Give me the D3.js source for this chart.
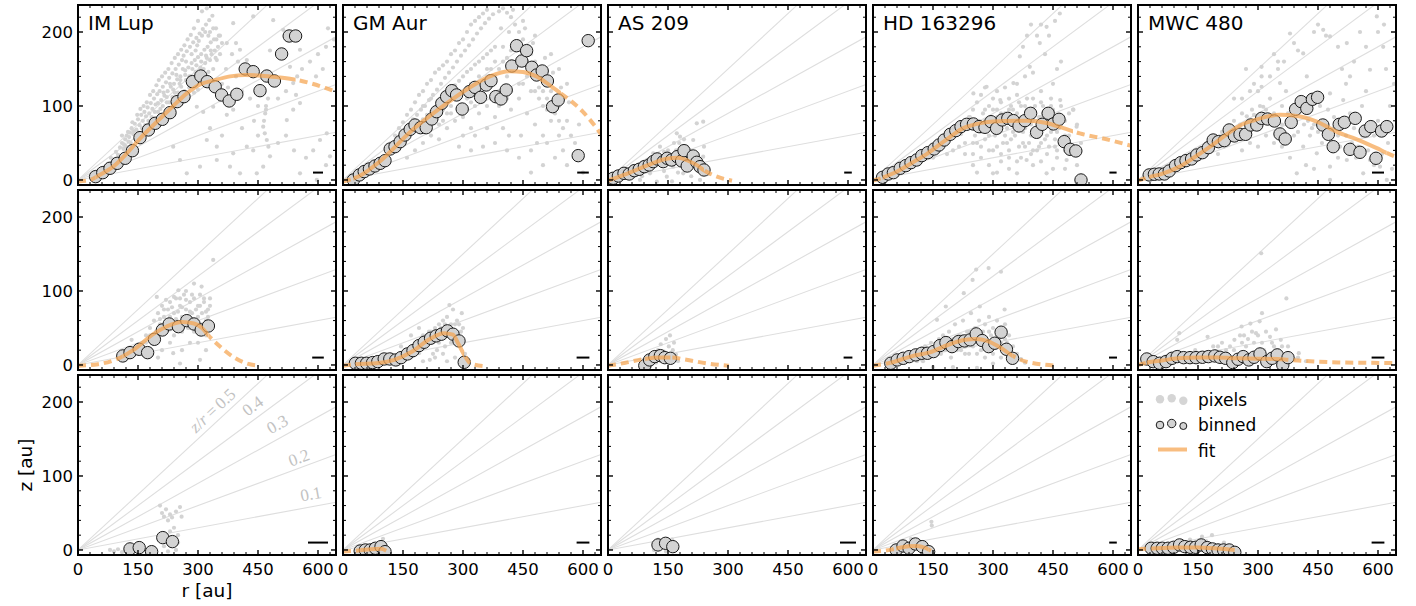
<!DOCTYPE html>
<html><head><meta charset="utf-8">
<script src="https://cdn.jsdelivr.net/npm/d3@7"></script>
<style>body{margin:0;background:#fff}svg{display:block}text{font-family:"DejaVu Sans",sans-serif;fill:#000}</style>
</head><body><svg id="c" width="1416" height="606"></svg>
<script>
// ---------- data ----------
const sources = ["IM Lup","GM Aur","AS 209","HD 163296","MWC 480"];
const xTicks = [0,150,300,450,600];
const yTicks = [0,100,200];
const ratios = [0.1,0.2,0.3,0.4,0.5];
const ratioLabels = [["0.1",582,76],["0.2",552,125],["0.3",498,170],["0.4",436,195],["0.5",336,189]];
const beams = [[25,29,19,18,30],[29,32,22,20,32],[50,32,40,19,32]];

// binned points (r, z) flat pairs
const binIMLup1=[44,4.5,62,9.9,80,15.8,98,22.5,118,29.3,136,39.6,155,57.2,176,67.6,193,76.6,211,82,230,91,248,105.9,265,112.6,286,132.9,307,140.5,323,132.9,343,126,359,114.9,378,106.8,397,115.8,418,150,438,146.4,455,120.7,472,140.5,491,133.8,509,170.3,528,194.6,544,194.6];
const binGMAur1=[26,0,41,6.8,53,11.3,66,14.9,80,18.9,93,22.5,105,26.1,118,41.9,130,45,143,51.8,155,60.8,168,68.5,180,74.3,194,70.7,208,70.7,222,82.4,234,92.3,247,103.6,259,112.6,272,120.7,284,114.9,298,95.9,316,119.4,330,125.2,344,111.7,358,128.4,370,134.2,382,112.6,395,109.5,408,121.6,422,154,434,181.5,447,160.8,459,174.8,472,152.3,484,141.9,498,147.3,511,133.8,524,99.1,538,108.1,588,32.9,613,188.3];
const binAS2091=[13,2.3,26,5.4,40,9,53,8.1,66,12.6,78,14.4,91,18,103,20.3,113,24.8,123,28.4,138,24.8,148,29.3,159,27,173,31.5,184,25.7,190,39.6,198,18.9,213,32.4,222,23.9,230,18,240,13.5];
const binHD1=[24,3.6,38,8.1,51,9.9,68,15.8,82,19.4,95,23.4,109,27,122,32.9,137,36.9,153,41.9,165,47.3,178,54,193,61.7,207,66.7,220,72.1,234,75.2,251,75.7,265,72.1,280,71.2,295,78.8,309,69.8,323,81.1,337,83.3,351,80.2,365,73,380,80.2,394,90.1,409,64.4,423,75.2,438,90.1,451,75.7,465,82,478,51.8,493,41.4,507,39.2,520,0];
const binMWC1=[28,6.8,41,7.7,53,8.1,66,8.1,78,12.2,94,19.4,107,23.4,120,26.1,134,28.4,147,33.8,161,36.9,176,43.7,188,54,201,51.8,216,53.2,228,67.6,241,59.5,255,61.7,269,61.7,282,74.3,297,74.3,309,83.3,324,82.4,341,79.7,355,62.2,368,55.4,383,77.9,394,95.5,408,105.9,422,96.8,436,109,449,111.7,462,74.3,476,61.7,488,45,503,75.2,516,77.9,530,41.4,543,83.3,555,37.4,568,66.2,582,72.1,595,29.3,609,66.2,622,72.1];
const binIMLup2=[112,12.2,130,16.7,153,21.2,174,16.7,191,34.7,211,47.3,228,55.4,251,51.8,272,59.9,290,55.4,308,47.3,326,52.7];
const binGMAur2=[31,2.3,46,2.3,59,2.3,74,3.2,87,4.5,103,8.1,117,8.1,132,6.8,145,9.9,161,14.9,175,19.4,190,26.2,203,30.7,219,36.1,233,39.3,246,41.6,261,46.1,275,41.6,290,32.5,303,3.6];
const binAS2092=[92,-0.9,104,6.8,117,11.3,131,12.6,142,9.9,156,9];
const binHD2=[44.5,2.3,60.5,6.8,75.6,9,90.7,11.3,106.8,13.6,121.9,15.8,136.1,15.8,151.2,18.1,167.3,26.2,182.4,30.3,197.5,24.8,213.5,31.6,228.7,32.5,242.9,33.9,258,42,273.1,33,289.2,24.8,304.3,29.4,320.3,44.3,333.6,21.2,348.8,9];
const binMWC2=[22,8.1,38,4.5,54,2.3,70,4.5,85,9,98,11.3,114,9.9,130,9.9,145,9.9,161,10.4,176,11.3,192,12.2,205,10.4,219,9,237,3.2,250,7.7,263,11.3,277,6.8,290,10.4,305,14.9,322,4.5,335,9,348,13.6,362,0,375,9.9];
const binIMLup3=[130,1.4,153,3.2,184,-2.3,212,16.7,236,11.3];
const binGMAur3=[43,-1.4,56,0,68,0,81,2.3,95,4.5,105,-2.3];
const binAS2093=[125,6.8,144,9,162,4.5];
const binHD3=[58,0,75,5.4,90,2.3,106,8.1,123,4.5,139,-2.3];
const binMWC3=[33,2.3,48,2.3,61,2.3,75,2.3,89,3.6,104,6.8,117,4.5,131,3.6,144,3.6,158,6.8,173,3.2,186,1.4,200,0,214,0,228,0,242,-3.2];

// fit curves (r, z) and solid range
const fitIMLup1=[0,-2,30,0,55,7,88,18,122,36,155,56,196,78,238,100,272,117,305,129,342,135,380,140,417,142,460,141,497,139,540,136,580,131,620,124,645,119];
const fitGMAur1=[0,-2,40,5,92,25,168,65,243,97,317,125,367,140,417,147,450,146,484,140,517,128,542,118,567,108,600,92,634,70,645,62];
const fitAS2091=[0,-1,25,4,50,9,100,20,150,29,175,30,200,26,225,19,240,13,270,5,310,-1];
const fitHD1=[0,-1,51,9,100,24,134,35,192,58,226,70,242,73,301,79,384,80,434,77,476,70,517,63,584,55,647,46];
const fitMWC1=[0,-1,28,4,58,8,100,17,142,31,183,46,225,63,260,75,292,81,325,86,355,88,397,86.5,447,79,497,65,547,55,597,43,620,37,645,31];
const fitIMLup2=[0,-1,50,1,97,8,138,20,189,42,222,52,260,58,290,56,310,50,326,40,355,25,388,11,422,2,455,-1];
const fitGMAur2=[0,-1,29,1,83,2.3,128,7,172,18,217,35,252,43,275,41,288,29,306,11,319,2,359,-2];
const fitAS2092=[0,-1,44,3,89,8,133,10,160,10,196,7,249,2,302,-1];
const fitHD2=[0,-1,44,3,98,12,142,17,187,27,231,34,258,35,285,32.5,320,23,347,13,383,4.5,463,-1];
const fitMWC2=[0,0,30,4,60,6,100,9,150,10,200,10,250,9,300,8.5,350,8,375,7,400,6,450,4.5,500,3.5,560,3,645,2.5];
const fitGMAur3=[0,-2,43,-0.5,70,1,95,1.5,108,-1];
const fitHD3=[0,-2,30,-1,58,2,90,5,110,5.5,130,3,145,-1];
const fitMWC3=[0,1,33,2,60,2.5,100,3.5,150,3.5,200,2,242,0];
const solidRanges=[[[44,544],[26,545],[13,240],[24,500],[28,622]],[[111,326],[31,303],[92,156],[44,349],[22,375]],[null,[43,105],null,[58,139],[33,242]]];

// pixel clouds (r, z)
const pixIMLup1=[60,12,68,18,75,22,82,30,88,28,95,38,100,34,105,44,110,50,114,42,118,55,122,60,126,52,130,64,134,70,138,62,142,76,146,68,150,82,154,74,158,88,162,80,166,92,170,86,174,98,178,90,182,104,186,96,190,110,194,102,198,116,200,92,204,120,208,108,212,126,216,114,220,132,224,120,228,138,232,126,236,144,240,130,244,150,248,136,252,156,256,140,260,162,212,100,222,105,236,112,250,118,258,126,264,168,268,148,272,174,276,152,280,180,284,158,288,186,292,162,296,192,300,166,304,198,308,170,312,204,316,176,320,210,324,180,328,216,332,186,336,222,340,190,270,135,282,140,294,146,306,152,318,158,330,162,266,120,278,125,290,130,302,134,314,140,326,146,338,150,300,215,310,228,322,232,345,205,350,180,355,170,
 110,60,115,48,120,45,125,65,128,58,132,50,136,78,140,66,144,55,148,88,152,64,156,96,160,70,164,100,168,74,172,105,176,80,180,115,184,85,188,120,192,92,196,128,200,104,202,135,206,96,210,140,214,118,218,145,222,112,226,150,230,130,234,158,238,122,242,165,246,142,250,170,254,130,258,176,262,150,266,182,270,160,274,190,278,140,282,196,286,150,290,205,294,175,298,182,302,188,306,140,310,195,314,150,318,200,322,165,326,195,330,200,334,170,338,205,342,175,346,190,352,195,360,185,228,105,242,118,256,135,268,142,284,170,296,155,308,160,320,168,332,175,344,165,300,122,290,118,276,110,262,108,248,100,236,98,
 297,99,313,92,338,99,355,108,388,95,372,88,322,54,347,45,388,36,422,45,438,40,463,72,467,63,472,54,476,45,480,32,463,18,447,9,405,9,380,18,347,27,305,18,272,9,255,27,238,45,522,81,538,95,555,104,538,131,530,153,555,176,538,189,513,203,488,216,438,221,388,212,372,185,405,176,422,162,347,162,588,40,605,54,622,63,630,32,555,9,597,0,360,130,375,125,395,140,410,120,430,110,450,100,470,95,500,110,520,120,560,150,580,160,600,170,620,180,640,190,450,60,500,50,540,40,570,30,620,20,410,70,440,80,360,60,330,70,370,150,400,160,480,140,520,60,465,80,468,90,470,100,475,110,545,115,548,140,595,140,612,150,625,205,385,170,395,185,355,195,480,175];
const pixGMAur1=[110,40,120,50,125,38,135,55,140,45,145,62,150,50,155,68,160,58,165,75,170,62,175,82,180,70,185,88,190,76,195,95,200,82,205,100,210,88,215,108,220,92,225,115,230,98,235,122,240,104,245,130,250,110,255,138,260,116,265,145,270,120,275,152,280,128,285,160,290,134,295,168,300,140,305,175,310,146,315,182,320,150,325,190,330,156,335,198,340,160,345,205,350,165,355,212,360,170,365,218,370,175,375,224,380,180,390,228,400,232,410,226,420,220,430,210,440,200,450,190,460,180,470,170,480,160,490,150,500,140,510,130,520,120,530,110,540,100,160,30,180,40,200,50,220,60,240,55,260,70,280,80,300,60,320,70,340,90,360,100,380,85,400,70,420,95,440,110,460,90,480,75,500,60,520,80,540,60,550,40,530,30,500,20,470,10,440,30,410,40,380,50,350,45,320,40,290,45,560,20,580,50,600,10,540,150,560,130,520,170,480,195,450,215,350,125,370,135,390,120,410,140,430,150,450,130,470,120,490,110,510,95,400,180,420,175,440,165,380,160,360,150,340,140,330,120,310,110,290,100,270,90,250,80,
 130,60,140,70,150,78,160,88,170,95,180,105,190,115,200,120,210,130,220,135,230,145,240,150,250,155,260,160,270,170,280,175,290,185,300,190,310,200,320,210,330,215,340,220,350,225,360,230,300,85,310,95,320,105,330,100,340,120,350,130,360,140,370,150,380,140,390,150,400,160,410,165,420,160,430,185,440,180,450,170,460,160,470,150,480,140,490,125,500,120,510,110,520,100,530,90,540,80,550,70,560,80,570,60,420,120,440,130,460,140,480,120,500,100,390,100,410,110,350,110,370,110,240,75,260,90,280,110,300,120,320,130,250,95,270,100,290,115,200,100,210,75,230,85,220,110,415,200,425,230,395,205,455,205,475,185,505,165,525,145,545,125,565,105,585,35,590,75,470,40,485,50,510,50,445,60,415,60,360,70,330,60];
const pixAS2091=[40,5,60,8,63,4.5,80,0,90,12,105,9,113,36,120,20,122,-2.3,130,45,135,28,147,31.5,147,4.5,150,40,160,22,163,18,172,63,175,35,180,58.5,185,45,188,9,197,45,200,30,205,15,213,54,215,38,222,76.5,222,13.5,225,25,230,0,238,78.8,238,31.5,240,45,247,18,250,8,100,25,70,15,55,3,140,12,165,50,190,55,110,30,125,35,140,38,155,33,170,40,178,50,192,36,205,40,210,22,218,30,232,22,243,10,208,5,175,10,160,-2,95,15,85,5,75,10];
const pixHD1=[150,30,165,40,180,48,190,55,200,60,210,66,220,62,230,75,240,85,245,70,250,95,255,60,260,105,265,80,270,115,275,90,280,125,285,70,290,100,295,85,300,110,305,60,310,95,315,75,320,105,325,50,330,90,335,70,340,110,345,55,350,95,355,80,360,115,365,45,370,100,375,65,380,85,385,110,390,50,395,75,400,95,405,60,410,40,415,85,420,70,425,100,430,55,435,35,440,80,445,65,450,95,455,45,460,30,465,70,470,55,475,85,480,40,490,60,500,95,510,75,520,50,300,9,360,9,384,27,434,9,484,27,501,95,468,108,509,72,434,207,467,225,417,185,392,153,367,167,351,131,318,108,284,126,251,117,242,85,218,63,184,49,151,31,440,195,455,215,430,170,400,145,380,140,360,130,330,125,310,120,290,40,270,30,250,20,230,35,320,25,340,15,400,20,420,25,450,15,250,50,280,55,310,45,340,40,370,30,395,35,420,120,445,110,470,100,490,90,
 260,50,270,65,280,80,290,60,300,75,310,85,320,70,330,60,340,80,350,65,360,75,370,85,380,70,390,90,400,80,410,70,420,85,430,75,440,95,450,80,460,65,470,75,480,60,280,95,300,95,320,90,340,95,360,90,380,100,400,110,420,105,440,90,460,85,480,80,300,40,320,35,340,30,360,25,380,45,400,40,420,50,440,45,460,40,480,15,500,40,510,20,250,35,270,45,230,50,215,45,200,40,185,35,290,20,310,10,260,10,450,130,460,150,470,160,375,180,385,195,395,210,420,210,410,195,335,50,355,60,375,50,395,60,415,45,435,60,455,55,345,100,365,105,385,95,405,100,425,90,445,100];
const pixMWC1=[150,30,165,38,180,45,190,60,200,50,210,65,220,58,230,72,240,80,250,70,260,90,272,86,285,95,295,75,305,100,313,99,309,153,309,140,309,126,320,85,330,110,340,90,355,131,360,100,370,120,380,198,390,185,400,175,413,171,380,54,395,80,405,95,413,45,422,140,430,60,440,75,447,36,455,100,463,203,470,195,480,194,480,117,480,18,480,0,490,85,500,60,513,108,522,185,522,27,530,90,540,70,550,45,563,9,570,120,580,149,580,27,590,60,597,221,605,18,613,180,622,0,630,100,640,130,260,40,280,50,300,45,320,60,340,50,360,45,380,30,397,9,420,20,440,15,460,50,500,30,520,130,540,160,560,100,600,80,620,150,300,120,330,140,350,160,240,110,270,150,
 200,35,215,45,225,48,235,55,245,62,255,75,265,65,275,80,290,88,300,70,310,80,320,95,335,75,345,85,360,75,375,90,390,60,400,65,415,75,425,80,435,70,450,65,465,80,475,95,490,70,505,45,520,60,535,50,545,30,560,60,575,40,590,20,610,35,625,50,635,15,260,110,280,120,290,130,340,170,350,150,365,160,440,200,450,210,500,180,510,150,530,140,555,200,570,180,600,200,615,210];
const pixIMLup2=[134,34,150,25,160,30,170,40,180,50,185,35,190,60,195,45,197,92,200,70,205,55,210,80,215,65,220,50,225,75,230,85,235,60,238,16,240,70,245,90,250,55,251,101,255,80,255,2,260,65,265,95,270,75,275,50,280,85,285,70,290,90,295,60,300,80,305,7,305,95,309,106,310,70,315,85,320,60,325,75,330,90,338,142,280,30,260,20,300,30,320,20,210,20,230,30,175,15,200,10,290,110,270,100,
 200,45,205,62,215,75,220,88,225,55,230,65,235,78,240,92,245,62,250,72,255,90,260,78,265,55,270,88,275,62,280,72,285,95,290,45,295,75,300,65,305,80,310,55,315,90,320,72,325,65,330,80,335,55,180,40,190,28,170,30,240,40,260,45,280,50,300,45,320,40];
const pixGMAur2=[130,5,140,10,145,25,155,15,165,20,175,12,180,30,190,16,195,35,200,25,210,40,215,30,220,45,225,15,230,50,235,20,240,55,245,35,250,60,252,47,255,25,260,65,262,40,266,81,270,55,275,75,280,45,285,60,290,30,297,70,300,50,305,15,217,7,200,5,260,5,280,10,170,40,190,50,
 200,40,205,30,215,45,225,35,235,40,240,30,245,50,250,45,255,55,265,50,270,45,280,55,285,40,290,55,295,45,300,35,230,10,250,15,270,30,180,20,170,10,160,12];
const pixAS2092=[95,0,100,5,105,-2,110,8,115,15,120,3,125,20,128,10,132,28,135,5,140,18,145,35,148,12,152,25,155,40,158,8,162,20,165,30,170,14,175,5];
const pixHD2=[70,5,85,10,100,8,110,15,120,20,125,5,130,25,140,12,145,30,155,20,160,61,165,35,170,15,175,40,182,79,185,25,190,45,195,10,200,35,205,55,210,20,215,40,220,30,225,60,227,97,230,15,235,45,240,35,245,70,249,115,250,25,255,50,258,129,260,40,265,60,267,79,270,20,275,45,280,55,285,30,289,131,290,65,295,40,300,50,305,25,310,60,315,35,320,126,320,45,325,20,329,75,330,55,335,30,340,40,345,15,350,25,355,5,360,15,370,8,380,3,150,-3,200,-3,260,-4,300,2,
 180,20,190,30,200,25,210,30,220,40,230,25,240,45,250,40,260,30,270,40,280,35,290,45,300,35,310,40,320,30,330,35,340,20,350,10,220,20,240,15,260,15,280,10,300,15,320,10,130,15,120,8,110,5,100,12];
const pixMWC2=[98,34,103,43,120,15,143,20,160,10,174,38,188,25,200,15,220,20,241,34,250,12,259,52,270,25,281,56,290,30,295,43,304,59,308,151,315,20,330,38,340,25,357,34,365,12,371,90,375,25,390,8,402,16,420,5,150,5,230,5,280,8,325,5,345,48,310,70,265,40,
 200,25,210,30,230,25,240,20,255,40,260,30,275,35,285,45,300,40,310,30,320,45,335,30,350,20,360,25,380,15,400,10];
const pixIMLup3=[205,60,210,50,215,45,220,55,225,40,230,48,235,44,245,52,255,58,259,45,240,30,230,25,250,20,215,5,225,-2,235,8,245,0,80,0,90,-2,100,1,110,-3,120,0,138,2,250,10,190,-3];
const pixGMAur3=[40,-2,50,0,60,3,75,5,85,2,95,8,100,15,105,4,110,-2];
const pixAS2093=[115,0,120,8,125,14,130,3,140,12,145,-2,150,10,160,14,165,0,170,6];
const pixHD3=[60,2,80,10,95,15,100,4,110,12,120,0,135,6,146,38,147,33,150,-2];
const pixMWC3=[40,3,60,5,90,8,110,10,130,14,150,10,160,18,170,12,185,20,200,6,215,10,230,4,240,2];

const legendItems = ["pixels","binned","fit"];

// ---------- build ----------
const pairs = a => { const o=[]; for(let i=0;i<a.length;i+=2) o.push([a[i],a[i+1]]); return o; };
const grid = [
  [[pixIMLup1,binIMLup1,fitIMLup1],[pixGMAur1,binGMAur1,fitGMAur1],[pixAS2091,binAS2091,fitAS2091],[pixHD1,binHD1,fitHD1],[pixMWC1,binMWC1,fitMWC1]],
  [[pixIMLup2,binIMLup2,fitIMLup2],[pixGMAur2,binGMAur2,fitGMAur2],[pixAS2092,binAS2092,fitAS2092],[pixHD2,binHD2,fitHD2],[pixMWC2,binMWC2,fitMWC2]],
  [[pixIMLup3,binIMLup3,null],[pixGMAur3,binGMAur3,fitGMAur3],[pixAS2093,binAS2093,null],[pixHD3,binHD3,fitHD3],[pixMWC3,binMWC3,fitMWC3]]
];

const svg=d3.select("#c");
const W=258,H=180,X0=78,Y0=5,DX=265,DY=185;
const x=d3.scaleLinear().domain([0,645]).range([0,W]);
const y=d3.scaleLinear().domain([-6.8,236.5]).range([H,0]);
const ORANGE="#f6a550";
const xMinor=d3.range(0,646,30).filter(v=>v%150!==0);
const yMinor=d3.range(0,237,20).filter(v=>v%100!==0);
const line=d3.line().x(d=>x(d[0])).y(d=>y(d[1])).curve(d3.curveMonotoneX);

grid.forEach((row,ri)=>row.forEach((cell,ci)=>{
  const [pix,bin,fit]=cell;
  const g=svg.append("g").attr("transform",`translate(${X0+ci*DX},${Y0+ri*DY})`);
  const cid=`clip${ri}${ci}`;
  g.append("clipPath").attr("id",cid).append("rect").attr("width",W).attr("height",H);
  const inner=g.append("g").attr("clip-path",`url(#${cid})`);
  ratios.forEach(k=>inner.append("line").attr("x1",x(0)).attr("y1",y(0)).attr("x2",x(645)).attr("y2",y(645*k))
     .attr("stroke","#dedede").attr("stroke-width",1.1));
  inner.append("g").selectAll("circle").data(pairs(pix)).join("circle")
     .attr("cx",d=>x(d[0])).attr("cy",d=>y(d[1])).attr("r",2.1).attr("fill","#d3d3d3");
  inner.append("g").selectAll("circle").data(pairs(bin)).join("circle")
     .attr("cx",d=>x(d[0])).attr("cy",d=>y(d[1])).attr("r",6.2)
     .attr("fill","#d3d3d3").attr("stroke","#1a1a1a").attr("stroke-width",1);
  if(fit){
    const sr=solidRanges[ri][ci];
    const sid=`s${ri}${ci}`, did=`d${ri}${ci}`;
    g.append("clipPath").attr("id",sid).append("rect").attr("x",x(sr[0])).attr("y",-20)
      .attr("width",x(sr[1])-x(sr[0])).attr("height",H+40);
    const cp=g.append("clipPath").attr("id",did);
    cp.append("rect").attr("x",-20).attr("y",-20).attr("width",x(sr[0])+20).attr("height",H+40);
    cp.append("rect").attr("x",x(sr[1])).attr("y",-20).attr("width",W+20).attr("height",H+40);
    const fg=inner.append("g").attr("opacity",0.72);
    fg.append("g").attr("clip-path",`url(#${did})`).append("path").attr("d",line(pairs(fit)))
      .attr("fill","none").attr("stroke",ORANGE).attr("stroke-width",4).attr("stroke-dasharray","8,5");
    fg.append("g").attr("clip-path",`url(#${sid})`).append("path").attr("d",line(pairs(fit)))
      .attr("fill","none").attr("stroke",ORANGE).attr("stroke-width",4);
  }
  // beam bar
  const b=beams[ri][ci];
  g.append("line").attr("x1",x(600-b/2)).attr("x2",x(600+b/2)).attr("y1",y(10)).attr("y2",y(10))
    .attr("stroke","#000").attr("stroke-width",2);
  // ticks
  const tk=g.append("g").attr("stroke","#000");
  xTicks.forEach(v=>{ tk.append("line").attr("x1",x(v)).attr("x2",x(v)).attr("y1",H).attr("y2",H-5).attr("stroke-width",1.4);
                      tk.append("line").attr("x1",x(v)).attr("x2",x(v)).attr("y1",0).attr("y2",5).attr("stroke-width",1.4);});
  xMinor.forEach(v=>{ tk.append("line").attr("x1",x(v)).attr("x2",x(v)).attr("y1",H).attr("y2",H-3).attr("stroke-width",1);
                      tk.append("line").attr("x1",x(v)).attr("x2",x(v)).attr("y1",0).attr("y2",3).attr("stroke-width",1);});
  yTicks.forEach(v=>{ tk.append("line").attr("y1",y(v)).attr("y2",y(v)).attr("x1",0).attr("x2",5).attr("stroke-width",1.4);
                      tk.append("line").attr("y1",y(v)).attr("y2",y(v)).attr("x1",W).attr("x2",W-5).attr("stroke-width",1.4);});
  yMinor.forEach(v=>{ tk.append("line").attr("y1",y(v)).attr("y2",y(v)).attr("x1",0).attr("x2",3).attr("stroke-width",1);
                      tk.append("line").attr("y1",y(v)).attr("y2",y(v)).attr("x1",W).attr("x2",W-3).attr("stroke-width",1);});
  g.append("rect").attr("width",W).attr("height",H).attr("fill","none").attr("stroke","#000").attr("stroke-width",2);
  if(ri===0) g.append("text").attr("x",10).attr("y",25).attr("font-size",20).text(sources[ci]);
  if(ci===0) yTicks.forEach(v=>g.append("text").attr("x",-5).attr("y",y(v)).attr("dy","0.36em")
      .attr("text-anchor","end").attr("font-size",16.5).text(v));
  if(ri===2) xTicks.forEach(v=>g.append("text").attr("x",x(v)).attr("y",H+20)
      .attr("text-anchor","middle").attr("font-size",16.5).text(v));
  if(ri===2&&ci===0){
    ratioLabels.forEach(([t,r,z],i)=>{
      const k=ratios[i];
      const ang=-Math.atan((y(0)-y(k*100))/(x(100)-x(0)))*180/Math.PI;
      const tx=g.append("text").attr("transform",`translate(${x(r)},${y(z)}) rotate(${ang})`)
        .attr("text-anchor","middle").attr("dy","0.35em").attr("font-size",17)
        .style("font-family","'Liberation Serif','DejaVu Serif',serif").style("fill","#c2c2c2");
      if(t==="0.5"){ tx.append("tspan").attr("font-style","italic").text("z");
        tx.append("tspan").text("/"); tx.append("tspan").attr("font-style","italic").text("r");
        tx.append("tspan").text("\u2009=\u20090.5"); }
      else tx.text(t);
    });
  }
  if(ri===2&&ci===4){
    const lg=g.append("g");
    [[22,24.3,4.2],[33.7,23.3,4.2],[45.3,25.7,4.2]].forEach(([a,b2,r])=>lg.append("circle").attr("cx",a).attr("cy",b2).attr("r",r).attr("fill","#d5d5d5"));
    [[22,50,3.8],[33.7,48.5,4.2],[45.3,51,3.5]].forEach(([a,b2,r])=>lg.append("circle").attr("cx",a).attr("cy",b2).attr("r",r).attr("fill","#d3d3d3").attr("stroke","#1a1a1a").attr("stroke-width",1));
    lg.append("line").attr("x1",20).attr("x2",49).attr("y1",74.5).attr("y2",74.5).attr("stroke",ORANGE).attr("stroke-width",4).attr("opacity",0.72);
    legendItems.forEach((t,i)=>lg.append("text").attr("x",60).attr("y",30.5+i*25.5).attr("font-size",17).text(t));
  }
}));
svg.append("text").attr("transform","translate(32,465) rotate(-90)").attr("text-anchor","middle").attr("font-size",18.5).text("z [au]");
svg.append("text").attr("x",207).attr("y",597).attr("text-anchor","middle").attr("font-size",18.5).text("r [au]");
</script></body></html>
